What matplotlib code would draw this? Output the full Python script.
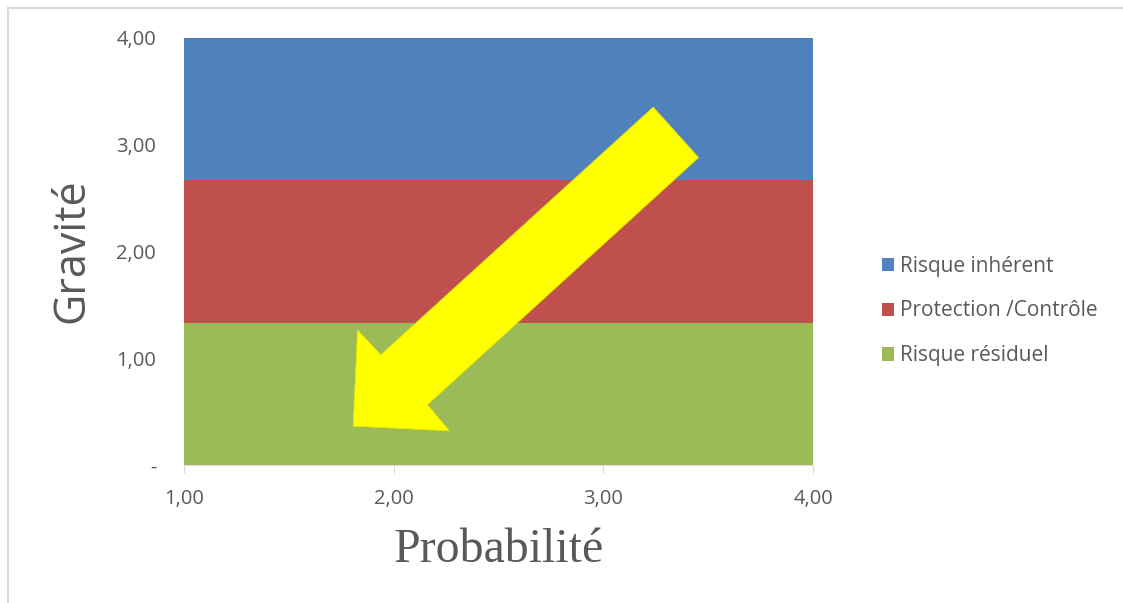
import matplotlib.pyplot as plt
from matplotlib.patches import Polygon
from matplotlib.lines import Line2D

# data
probabilite = [1.0, 4.0]
risque_residuel = [1.333, 1.333]
protection_controle = [1.333, 1.333]
risque_inherent = [1.334, 1.334]
series_names = ["Risque résiduel", "Protection /Contrôle", "Risque inhérent"]
series_colors = ["#9BBB59", "#C0504D", "#4F81BD"]
x_ticks = [1.0, 2.0, 3.0, 4.0]
y_ticks = [0.0, 1.0, 2.0, 3.0, 4.0]

# arrow outline, in axes fractions
arrow_x = [0.746, 0.818, 0.387, 0.422, 0.269, 0.276, 0.313]
arrow_y = [0.838, 0.720, 0.141, 0.080, 0.091, 0.316, 0.258]

grey = "#595959"
sans = ["Open Sans", "DejaVu Sans"]


def fmt(v):
    if v == 0:
        return "-"
    return f"{v:.2f}".replace(".", ",")


fig = plt.figure(figsize=(11.23, 6.03), dpi=100)
ax = fig.add_axes([184 / 1123, 1 - 465 / 603, 629 / 1123, 427 / 603])

ax.stackplot(probabilite, risque_residuel, protection_controle, risque_inherent,
             colors=series_colors, labels=series_names, linewidth=0)

ax.set_xlim(1, 4)
ax.set_ylim(0, 4)
ax.set_xticks(x_ticks)
ax.set_xticklabels([fmt(v) for v in x_ticks], fontsize=14.5, color=grey, family=sans)
ax.set_yticks(y_ticks)
ax.set_yticklabels([fmt(v) for v in y_ticks], fontsize=14.5, color=grey, family=sans)
ax.tick_params(axis="y", length=0, pad=20)
ax.tick_params(axis="x", length=6, color="#D9D9D9", pad=11)
for s in ["top", "right", "left"]:
    ax.spines[s].set_visible(False)
ax.spines["bottom"].set_color("#D9D9D9")

ax.set_ylabel("Gravité", fontsize=31, color=grey, fontfamily="Open Sans")
ax.yaxis.set_label_coords(-0.143, 0.501)
ax.set_xlabel("Probabilité", fontsize=34.5, color=grey, fontfamily="Liberation Serif")
ax.xaxis.set_label_coords(0.5, -0.148)

arrow = Polygon(list(zip(arrow_x, arrow_y)), closed=True, transform=ax.transAxes,
                facecolor="#FFFF00", edgecolor="#E6E600", linewidth=0.6, zorder=5)
ax.add_patch(arrow)

handles, labels = ax.get_legend_handles_labels()
fig.legend(handles[::-1], labels[::-1], loc="center left", bbox_to_anchor=(863 / 1123, 1 - 311 / 603),
           frameon=False, labelcolor=grey, prop={"family": sans, "size": 15},
           handlelength=0.6, handleheight=0.6, handletextpad=0.3, labelspacing=1.15)

# outer frame (top and left edges only)
fig.add_artist(Line2D([8 / 1123, 1], [1 - 8 / 603, 1 - 8 / 603], color="#D9D9D9", linewidth=1.5))
fig.add_artist(Line2D([8 / 1123, 8 / 1123], [0, 1 - 8 / 603], color="#D9D9D9", linewidth=1.5))

fig.savefig("out.png", dpi=100)
